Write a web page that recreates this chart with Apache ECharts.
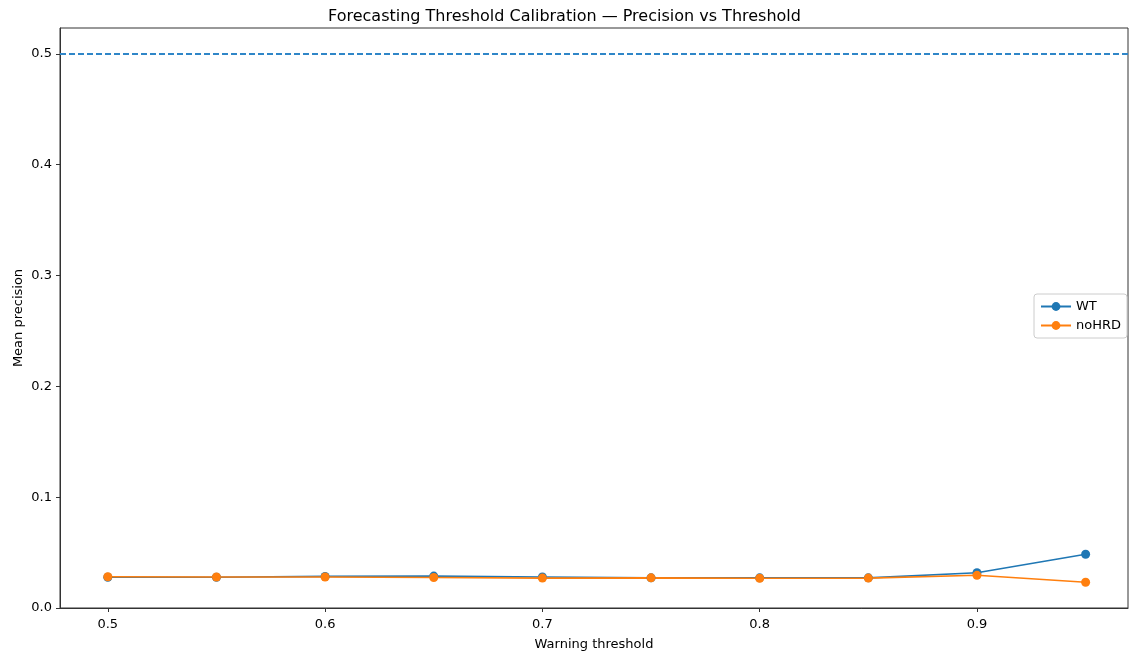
<!DOCTYPE html>
<html><head><meta charset="utf-8">
<script src="https://cdn.jsdelivr.net/npm/echarts@6/dist/echarts.min.js"></script>
<style>html,body{margin:0;padding:0;background:#fff}#c{width:1129px;height:654px}</style>
</head><body><div id="c"></div>
<script>
const thresholds = [0.5, 0.55, 0.6, 0.65, 0.7, 0.75, 0.8, 0.85, 0.9, 0.95];
const wtPrecision = [0.0278, 0.0278, 0.0285, 0.0288, 0.0280, 0.0272, 0.0272, 0.0272, 0.0318, 0.0485];
const noHRDPrecision = [0.0282, 0.0280, 0.0280, 0.0275, 0.0270, 0.0272, 0.0268, 0.0270, 0.0295, 0.0232];
const xTicks = [0.5, 0.6, 0.7, 0.8, 0.9];
const yTicks = [0, 0.1, 0.2, 0.3, 0.4, 0.5];
const targetPrecision = 0.5;

const font = 'DejaVu Sans';
const chart = echarts.init(document.getElementById('c'));
const pairs = a => thresholds.map((t, i) => [t, a[i]]);
chart.setOption({
  animation: false,
  title: { text: 'Forecasting Threshold Calibration — Precision vs Threshold', left: 'center', top: 4,
    textStyle: { fontFamily: font, fontSize: 16, fontWeight: 'normal', color: '#000' } },
  grid: { left: 60, right: 1, top: 28, bottom: 46, show: true, borderColor: '#333', borderWidth: 1,
    backgroundColor: 'transparent', outerBoundsMode: 'none', containLabel: false },
  legend: { left: 1034, top: 294, orient: 'vertical', itemWidth: 30, itemHeight: 11, itemGap: 6,
    borderColor: '#ccc', borderWidth: 1, borderRadius: 3, padding: [6, 6, 6, 6], backgroundColor: '#fff',
    textStyle: { fontFamily: font, fontSize: 13, color: '#000' },
    data: ['WT', 'noHRD'] },
  xAxis: { type: 'value', min: 0.478, max: 0.9695,
    name: 'Warning threshold', nameLocation: 'middle', nameGap: 30, nameMoveOverlap: false,
    nameTextStyle: { fontFamily: font, fontSize: 13, color: '#000' },
    axisLine: { show: true, onZero: false, lineStyle: { color: '#333' } },
    axisTick: { show: true, customValues: xTicks, length: 4, lineStyle: { color: '#333' } },
    axisLabel: { customValues: xTicks, margin: 10, fontFamily: font, fontSize: 13, color: '#000', formatter: v => v.toFixed(1) },
    splitLine: { show: false } },
  yAxis: { type: 'value', min: 0, max: 0.5234,
    name: 'Mean precision', nameLocation: 'middle', nameGap: 35, nameRotate: 90, nameMoveOverlap: false,
    nameTextStyle: { fontFamily: font, fontSize: 13, color: '#000' },
    axisLine: { show: true, lineStyle: { color: '#333' } },
    axisTick: { show: true, customValues: yTicks, length: 4, lineStyle: { color: '#333' } },
    axisLabel: { customValues: yTicks, margin: 8, fontFamily: font, fontSize: 13, color: '#000', formatter: v => v.toFixed(1) },
    splitLine: { show: false } },
  series: [
    { name: 'WT', type: 'line', data: pairs(wtPrecision), symbol: 'circle', symbolSize: 9,
      itemStyle: { color: '#1f77b4' }, lineStyle: { width: 1.6, color: '#1f77b4' },
      markLine: { silent: true, symbol: 'none', label: { show: false },
        lineStyle: { type: [6, 3], color: '#2f86c8', width: 1.8 },
        data: [{ yAxis: targetPrecision }] } },
    { name: 'noHRD', type: 'line', data: pairs(noHRDPrecision), symbol: 'circle', symbolSize: 9,
      itemStyle: { color: '#ff7f0e' }, lineStyle: { width: 1.6, color: '#ff7f0e' } }
  ]
});
</script></body></html>
